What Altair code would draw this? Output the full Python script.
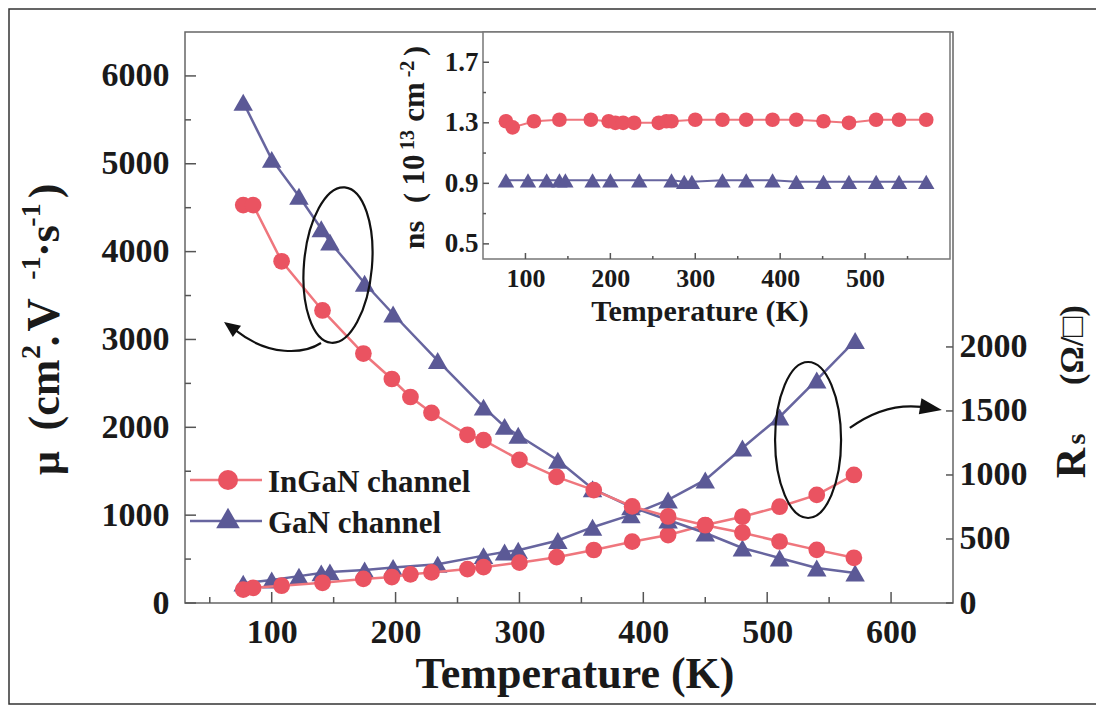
import altair as alt
import pandas as pd

# ---------------- data ----------------
T_ingan  = [77, 85, 108, 141, 174, 197, 212, 229, 258, 271, 300, 330, 360, 391, 420, 450, 480, 510, 540, 570]
mu_ingan = [4530, 4530, 3890, 3330, 2840, 2550, 2345, 2165, 1915, 1855, 1630, 1435, 1285, 1100, 985, 885, 800, 700, 605, 515]
rs_ingan = [105, 118, 135, 158, 188, 203, 224, 239, 265, 280, 315, 358, 414, 479, 531, 609, 674, 752, 844, 1000]

T_gan  = [77, 100, 122, 140, 147, 175, 198, 234, 271, 288, 299, 331, 359, 390, 420, 450, 480, 510, 540, 571]
mu_gan = [5700, 5050, 4630, 4260, 4110, 3640, 3290, 2760, 2230, 2010, 1910, 1625, 1300, 1096, 945, 797, 626, 512, 398, 341]
rs_gan = [155, 180, 210, 235, 243, 258, 278, 303, 370, 398, 412, 488, 592, 688, 805, 961, 1211, 1453, 1742, 2050]

T_ns_ingan = [77, 85, 110, 140, 177, 198, 206, 215, 228, 257, 266, 272, 300, 332, 360, 391, 419, 451, 481, 513, 540, 572]
ns_ingan   = [1.31, 1.27, 1.31, 1.32, 1.32, 1.31, 1.30, 1.30, 1.30, 1.30, 1.31, 1.31, 1.32, 1.32, 1.32, 1.32, 1.32, 1.31, 1.30, 1.32, 1.32, 1.32]
T_ns_gan = [77, 103, 125, 140, 147, 179, 200, 234, 272, 287, 296, 332, 360, 391, 419, 451, 481, 513, 540, 572]
ns_gan   = [0.92, 0.92, 0.92, 0.92, 0.92, 0.92, 0.92, 0.92, 0.92, 0.91, 0.91, 0.92, 0.92, 0.92, 0.91, 0.91, 0.91, 0.91, 0.91, 0.91]

series_names = ["InGaN channel", "GaN channel"]

x_ticks = [100, 200, 300, 400, 500, 600]
x_minor = [50, 150, 250, 350, 450, 550]
mu_ticks = [0, 1000, 2000, 3000, 4000, 5000, 6000]
mu_minor = [500, 1500, 2500, 3500, 4500, 5500]
rs_ticks = [0, 500, 1000, 1500, 2000]
ins_x_ticks = [100, 200, 300, 400, 500]
ins_x_minor = [150, 250, 350, 450, 550]
ins_y_ticks = [0.5, 0.9, 1.3, 1.7]
ins_y_minor = [0.7, 1.1, 1.5]

# annotation anchors (data coordinates)
ell1 = {"T": [153.5], "mu": [3847]}
ell2 = {"T": [533], "rs": [1273]}
arr1 = {"T": [61.5], "mu": [3199]}
arr2 = {"T": [641], "rs": [1508]}

# ---------------- style ----------------
W, H = 768, 571
FONT = "Liberation Serif"
TXT = "#1a1a1a"
C_IN, C_IN_L = "#EA5361", "#EF767D"
C_GA, C_GA_L = "#5B5996", "#67659F"
TICK = "#555555"

xs = alt.Scale(domain=[30, 650], nice=False, zero=False)
mus = alt.Scale(domain=[0, 6500], nice=False, zero=False)
rss = alt.Scale(domain=[0, 4460], nice=False, zero=False)
ixs = alt.Scale(domain=[50, 600], range=[298, 765], nice=False, zero=False)
iys = alt.Scale(domain=[0.4, 1.9], range=[227, 0], nice=False, zero=False)


def lab_axis(**kw):
    base = dict(labelFont=FONT, labelFontWeight="bold", labelColor=TXT, ticks=False,
                tickSize=0, domain=False, grid=False, title=None, labelOverlap=False,
                labelFlush=False, format="d")
    base.update(kw)
    return alt.Axis(**base)


df_in = pd.DataFrame({"T": T_ingan, "mu": mu_ingan, "rs": rs_ingan})
df_ga = pd.DataFrame({"T": T_gan, "mu": mu_gan, "rs": rs_gan})
df_nsi = pd.DataFrame({"T": T_ns_ingan, "ns": ns_ingan})
df_nsg = pd.DataFrame({"T": T_ns_gan, "ns": ns_gan})

layers = []

# ---- Rs curves (right axis) ----
layers.append(alt.Chart(df_ga).mark_line(color=C_GA_L, strokeWidth=2.5).encode(
    x=alt.X("T:Q", scale=xs, axis=None),
    y=alt.Y("rs:Q", scale=rss, axis=lab_axis(orient="right", values=rs_ticks,
                                             labelFontSize=34, labelPadding=6))))
layers.append(alt.Chart(df_ga).mark_point(shape="triangle-up", filled=True, size=380, color=C_GA, opacity=1).encode(
    x=alt.X("T:Q", scale=xs, axis=None), y=alt.Y("rs:Q", scale=rss, axis=None)))
layers.append(alt.Chart(df_in).mark_line(color=C_IN_L, strokeWidth=2.5).encode(
    x=alt.X("T:Q", scale=xs, axis=None), y=alt.Y("rs:Q", scale=rss, axis=None)))
layers.append(alt.Chart(df_in).mark_point(shape="circle", filled=True, size=280, color=C_IN, opacity=1).encode(
    x=alt.X("T:Q", scale=xs, axis=None), y=alt.Y("rs:Q", scale=rss, axis=None)))

# ---- mobility curves (left axis) ----
layers.append(alt.Chart(df_ga).mark_line(color=C_GA_L, strokeWidth=2.5).encode(
    x=alt.X("T:Q", scale=xs, axis=lab_axis(orient="bottom", values=x_ticks,
                                           labelFontSize=34, labelPadding=12)),
    y=alt.Y("mu:Q", scale=mus, axis=lab_axis(orient="left", values=mu_ticks,
                                             labelFontSize=34, labelPadding=16))))
layers.append(alt.Chart(df_ga).mark_point(shape="triangle-up", filled=True, size=380, color=C_GA, opacity=1).encode(
    x=alt.X("T:Q", scale=xs, axis=None), y=alt.Y("mu:Q", scale=mus, axis=None)))
layers.append(alt.Chart(df_in).mark_line(color=C_IN_L, strokeWidth=2.5).encode(
    x=alt.X("T:Q", scale=xs, axis=None), y=alt.Y("mu:Q", scale=mus, axis=None)))
layers.append(alt.Chart(df_in).mark_point(shape="circle", filled=True, size=280, color=C_IN, opacity=1).encode(
    x=alt.X("T:Q", scale=xs, axis=None), y=alt.Y("mu:Q", scale=mus, axis=None)))

# ---- ellipses and arrows ----
ELL1 = "M-34,0 A34,78 0 1,0 34,0 A34,78 0 1,0 -34,0 Z"
ELL2 = "M-33,0 A33,78 0 1,0 33,0 A33,78 0 1,0 -33,0 Z"
CUR1 = "M97,21 C80,32 45,35 11,8"
HEAD1 = "M0,0 L17,3.7 L8.8,15.1 Z"
CUR2 = "M-92,18 C-70,2 -45,-6 -20,-3"
HEAD2 = "M0,0 L-20.4,-11.6 L-23,4.2 Z"

layers.append(alt.Chart(pd.DataFrame(ell1)).mark_point(shape=ELL1, size=4, filled=False, color="#111", strokeWidth=2.2, opacity=1, angle=5).encode(
    x=alt.X("T:Q", scale=xs, axis=None), y=alt.Y("mu:Q", scale=mus, axis=None)))
layers.append(alt.Chart(pd.DataFrame(arr1)).mark_point(shape=CUR1, size=4, filled=False, color="#111", strokeWidth=2.2, opacity=1).encode(
    x=alt.X("T:Q", scale=xs, axis=None), y=alt.Y("mu:Q", scale=mus, axis=None)))
layers.append(alt.Chart(pd.DataFrame(arr1)).mark_point(shape=HEAD1, size=4, filled=True, color="#111", opacity=1).encode(
    x=alt.X("T:Q", scale=xs, axis=None), y=alt.Y("mu:Q", scale=mus, axis=None)))
layers.append(alt.Chart(pd.DataFrame(ell2)).mark_point(shape=ELL2, size=4, filled=False, color="#111", strokeWidth=2.2, opacity=1).encode(
    x=alt.X("T:Q", scale=xs, axis=None), y=alt.Y("rs:Q", scale=rss, axis=None)))
layers.append(alt.Chart(pd.DataFrame(arr2)).mark_point(shape=CUR2, size=4, filled=False, color="#111", strokeWidth=2.2, opacity=1).encode(
    x=alt.X("T:Q", scale=xs, axis=None), y=alt.Y("rs:Q", scale=rss, axis=None)))
layers.append(alt.Chart(pd.DataFrame(arr2)).mark_point(shape=HEAD2, size=4, filled=True, color="#111", opacity=1).encode(
    x=alt.X("T:Q", scale=xs, axis=None), y=alt.Y("rs:Q", scale=rss, axis=None)))

# ---- main inward ticks ----
def xt(vals, scale, y0, y1):
    return alt.Chart(pd.DataFrame({"v": vals})).mark_rule(color=TICK, strokeWidth=1.5).encode(
        x=alt.X("v:Q", scale=scale, axis=None), y=alt.value(y0), y2=alt.value(y1))


def yt(vals, scale, x0, x1):
    return alt.Chart(pd.DataFrame({"v": vals})).mark_rule(color=TICK, strokeWidth=1.5).encode(
        y=alt.Y("v:Q", scale=scale, axis=None), x=alt.value(x0), x2=alt.value(x1))


layers += [xt(x_ticks, xs, H, H - 11), xt(x_minor, xs, H, H - 6),
           yt(mu_ticks, mus, 0, 11), yt(mu_minor, mus, 0, 6),
           yt(rs_ticks, rss, W, W - 7)]

# ---- inset ----
layers.append(alt.Chart(pd.DataFrame({"v": [0]})).mark_rect(fill="white", stroke="#777777", strokeWidth=1.5).encode(
    x=alt.value(298), x2=alt.value(765), y=alt.value(0), y2=alt.value(227)))
layers.append(alt.Chart(df_nsi).mark_line(color=C_IN_L, strokeWidth=2).encode(
    x=alt.X("T:Q", scale=ixs, axis=lab_axis(orient="bottom", offset=-344, values=ins_x_ticks,
                                            labelFontSize=26, labelPadding=6)),
    y=alt.Y("ns:Q", scale=iys, axis=lab_axis(orient="left", offset=-298, values=ins_y_ticks,
                                             format=".1f", labelFontSize=27, labelPadding=5))))
layers.append(alt.Chart(df_nsi).mark_point(shape="circle", filled=True, size=215, color=C_IN, opacity=1).encode(
    x=alt.X("T:Q", scale=ixs, axis=None), y=alt.Y("ns:Q", scale=iys, axis=None)))
layers.append(alt.Chart(df_nsg).mark_line(color=C_GA_L, strokeWidth=2).encode(
    x=alt.X("T:Q", scale=ixs, axis=None), y=alt.Y("ns:Q", scale=iys, axis=None)))
layers.append(alt.Chart(df_nsg).mark_point(shape="triangle-up", filled=True, size=270, color=C_GA, opacity=1).encode(
    x=alt.X("T:Q", scale=ixs, axis=None), y=alt.Y("ns:Q", scale=iys, axis=None)))
layers += [xt(ins_x_ticks, ixs, 227, 221), xt(ins_x_minor, ixs, 227, 224),
           yt(ins_y_ticks, iys, 298, 304), yt(ins_y_minor, iys, 298, 301)]

# ---- legend ----
for name, col, lcol, shp, sz, ly in [(series_names[0], C_IN, C_IN_L, "circle", 400, 448),
                                     (series_names[1], C_GA, C_GA_L, "triangle-up", 560, 489)]:
    one = pd.DataFrame({"n": [name]})
    layers.append(alt.Chart(one).mark_rule(color=lcol, strokeWidth=2.5).encode(
        x=alt.value(5), x2=alt.value(77), y=alt.value(ly)))
    layers.append(alt.Chart(one).mark_point(shape=shp, filled=True, size=sz, color=col, opacity=1).encode(
        x=alt.value(43), y=alt.value(ly - (3 if shp != "circle" else 0))))
    layers.append(alt.Chart(one).mark_text(font=FONT, fontWeight="bold", fontSize=31, color=TXT,
                                           align="left", baseline="alphabetic").encode(
        text="n:N", x=alt.value(83), y=alt.value(ly + 12)))


# ---- titles ----
def txt(s, x, y, size, angle=None, align="center"):
    kw = dict(font=FONT, fontWeight="bold", fontSize=size, color=TXT, align=align, baseline="alphabetic")
    if angle is not None:
        kw["angle"] = angle
    return alt.Chart(pd.DataFrame({"t": [s]})).mark_text(**kw).encode(
        text="t:N", x=alt.value(x), y=alt.value(y))


layers += [
    txt("Temperature (K)", 390, 656, 44),
    txt("Temperature (K)", 515, 289, 30),
]

# inset y title pieces: (text, centre along the axis, size, raised)
ns_title = [("ns", 203, 30, False), ("(", 166, 30, False), ("10", 138, 31, False),
            ("13", 108, 20, True), ("cm", 70, 31, False), ("-2", 37, 20, True), (")", 19, 30, False)]
for s, yc, fs, up in ns_title:
    layers.append(txt(s, 229 if up else 239, yc, fs, angle=270))

# main left title pieces
mu_title = [("μ", 431, 42, False), ("(cm", 363, 44, False), ("2", 320, 28, True),
            (".", 309, 44, False), ("V", 283, 46, False), ("-1", 236, 28, True),
            ("·s", 209, 44, False), ("-1", 183, 28, True), (")", 159, 44, False)]
for s, yc, fs, up in mu_title:
    layers.append(txt(s, -145 if up else -126, yc, fs, angle=270))

# right title pieces
layers += [
    txt("R", 900, 431, 42, angle=270),
    txt("s", 900, 407, 28, angle=270),
    txt("(Ω/□)", 898, 313, 34, angle=270),
]

# ---- outer figure border ----
layers.append(alt.Chart(pd.DataFrame({"v": [0]})).mark_rect(fillOpacity=0, stroke="#333333", strokeWidth=1.5).encode(
    x=alt.value(-176), x2=alt.value(940), y=alt.value(-23), y2=alt.value(672)))

chart = alt.layer(*layers).resolve_scale(x="independent", y="independent").properties(
    width=W, height=H, autosize=alt.AutoSizeParams(type="none"),
    padding={"left": 177, "top": 24, "right": 143, "bottom": 102},
    background="white",
).configure_view(stroke="#666666", strokeWidth=1.5)

chart.save("out.html", embed_options={"renderer": "svg", "actions": False})
